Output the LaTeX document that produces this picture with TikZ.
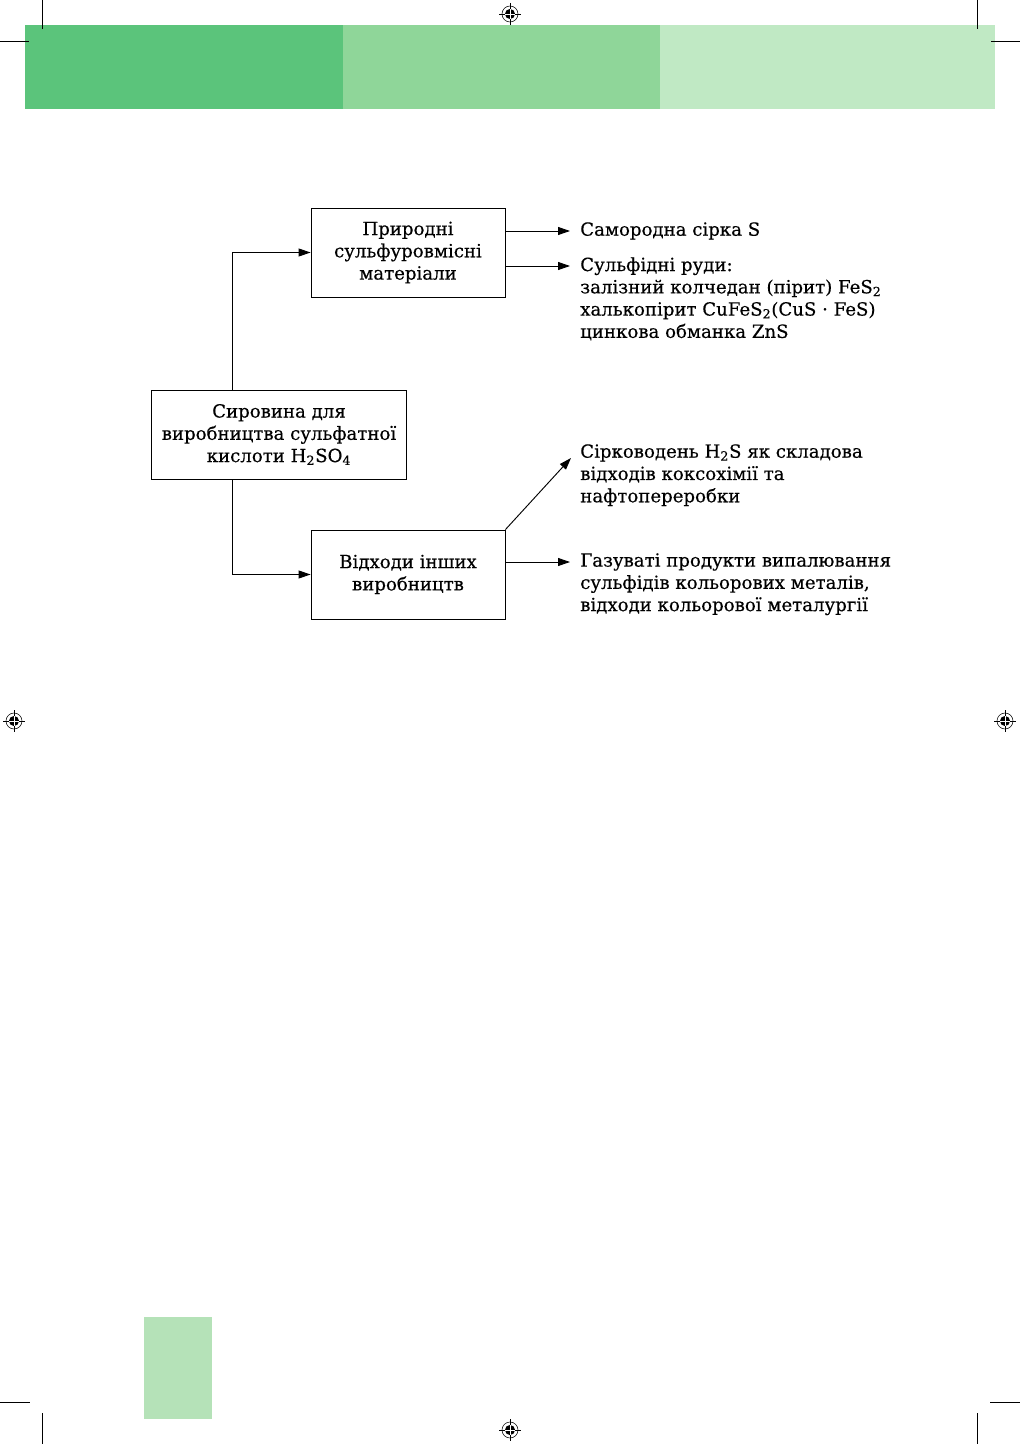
\documentclass[tikz,border=0pt]{standalone}
\usepackage{fontspec}
\setmainfont{DejaVu Serif}[FakeBold=0.4]
\usepackage{xcolor}
\usepackage{tikz}
\usetikzlibrary{arrows.meta,positioning,calc}

\definecolor{bandone}{RGB}{91,196,123}
\definecolor{bandtwo}{RGB}{143,214,153}
\definecolor{bandthree}{RGB}{192,233,196}
\definecolor{tabgreen}{RGB}{181,226,184}

\tikzset{
  box/.style={draw, line width=0.65pt, align=center, inner sep=0pt, minimum width=145.5pt, minimum height=66.75pt, font=\fontsize{13.6}{16.7}\selectfont},
  txt/.style={align=left, inner sep=0pt, anchor=north west, font=\fontsize{13.6}{16.7}\selectfont},
  arr/.style={-{Triangle[length=9pt,width=6pt]}, line width=0.7pt},
  crop/.style={line width=0.5pt},
}

\begin{document}
\begin{tikzpicture}[x=0.75pt, y=-0.75pt]
		\useasboundingbox (0,0) rectangle (1020,1444);
		% page decoration
		\fill[bandone] (25,25) rectangle (343,109);
		\fill[bandtwo] (343,25) rectangle (660,109);
		\fill[bandthree] (660,25) rectangle (995,109);
		\fill[tabgreen] (144,1317) rectangle (212,1419);
		\draw[crop] (42,0) -- (42,29) (977,0) -- (977,29) (0,41) -- (29,41) (991,41) -- (1020,41);
		\draw[crop] (42,1413) -- (42,1444) (977,1413) -- (977,1444) (0,1402) -- (30,1402) (990,1402) -- (1020,1402);
		\foreach \x/\y in {510/14, 14/721, 1005/721, 510/1430} {
			\draw[line width=0.4pt] (\x,\y) circle[radius=6pt];
			\draw[line width=0.4pt] (\x-11,\y) -- (\x+11,\y) (\x,\y-11) -- (\x,\y+11);
			\fill (\x,\y) circle[radius=3.8pt];
			\draw[white, line width=0.5pt] (\x-5,\y) -- (\x+5,\y) (\x,\y-5) -- (\x,\y+5);
		}

		% boxes
		\node[box] (boxA) at (408,252.5) {Природні\\сульфуровмісні\\матеріали};
		\node[box, minimum width=191.25pt] (main) at (279,434.5) {Сировина для\\виробництва сульфатної\\кислоти H\textsubscript{2}SO\textsubscript{4}};
		\node[box] (boxB) at (408,574.5) {Відходи інших\\виробництв};

		% texts
		\node[txt] (samorodna) at (580,222) {Самородна сірка S};
		\node[txt] (rudy) at (580,257) {Сульфідні руди:\\залізний колчедан (пірит) FeS\textsubscript{2}\\халькопірит CuFeS\textsubscript{2}(CuS · FeS)\\цинкова обманка ZnS};
		\node[txt] (sirkovoden) at (580,444) {Сірководень H\textsubscript{2}S як складова\\відходів коксохімії та\\нафтопереробки};
		\node[txt] (gazy) at (580,553) {Газуваті продукти випалювання\\сульфідів кольорових металів,\\відходи кольорової металургії};

		\coordinate (split) at ($(main.north west)!0.32!(main.north east)$);
		\coordinate (toS) at (570,231);
		\coordinate (toRudy) at (570,266);
		\coordinate (toH2S) at (571,458);
		\coordinate (toGazy) at (570,562);

		\draw[arr] (split) |- (boxA.west);
		\draw[arr] (split |- main.south) |- (boxB.west);
		\draw[arr] (boxA.east |- toS) -- (toS);
		\draw[arr] (boxA.east |- toRudy) -- (toRudy);
		\draw[arr] (boxB.north east) -- (toH2S);
		\draw[arr] (boxB.east |- toGazy) -- (toGazy);
	\end{tikzpicture}
\end{document}
